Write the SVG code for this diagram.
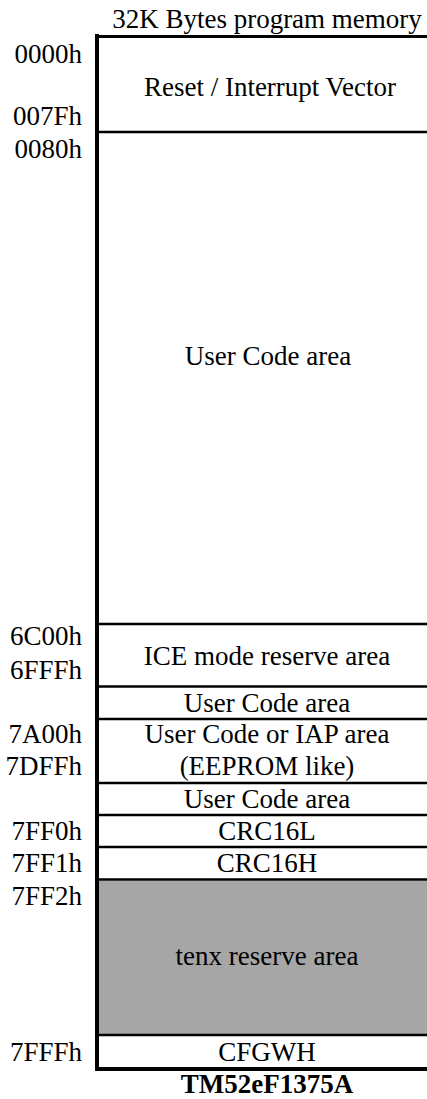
<svg xmlns="http://www.w3.org/2000/svg" width="427" height="1099" viewBox="0 0 427 1099">
<style>
text{font-family:"Liberation Serif","Times New Roman",serif;font-size:27px;fill:#000}
.c{text-anchor:middle}
.a{text-anchor:end}
.b{font-weight:bold}
.ln{stroke:#000;stroke-width:2.3;fill:none}
</style>
<rect width="427" height="1099" fill="#fff"/>
<text class="c" x="267" y="28" font-size="26.5">32K Bytes program memory</text>
<g id="addresses">
<text class="a" x="82" y="63">0000h</text>
<text class="a" x="82" y="125">007Fh</text>
<text class="a" x="82" y="158">0080h</text>
<text class="a" x="82" y="645">6C00h</text>
<text class="a" x="82" y="679">6FFFh</text>
<text class="a" x="82" y="743">7A00h</text>
<text class="a" x="82" y="775">7DFFh</text>
<text class="a" x="82" y="840">7FF0h</text>
<text class="a" x="82" y="872">7FF1h</text>
<text class="a" x="82" y="905">7FF2h</text>
<text class="a" x="82" y="1061">7FFFh</text>
</g>
<g id="reset"><text class="c" x="270" y="96">Reset / Interrupt Vector</text></g>
<g id="user1"><text class="c" x="268" y="365">User Code area</text></g>
<g id="ice"><text class="c" x="267" y="665">ICE mode reserve area</text></g>
<g id="user2"><text class="c" x="267" y="712">User Code area</text></g>
<g id="iap"><text class="c" x="267" y="743">User Code or IAP area</text><text class="c" x="267" y="775">(EEPROM like)</text></g>
<g id="user3"><text class="c" x="267" y="808">User Code area</text></g>
<g id="crc16l"><text class="c" x="267" y="840">CRC16L</text></g>
<g id="crc16h"><text class="c" x="267" y="872">CRC16H</text></g>
<g id="tenx"><rect x="99" y="880.5" width="328" height="154" fill="#a6a6a6"/><text class="c" x="267" y="965">tenx reserve area</text></g>
<g id="cfgwh"><text class="c" x="267" y="1061">CFGWH</text></g>
<g id="lines">
<line x1="95" y1="36.5" x2="427" y2="36.5" stroke="#000" stroke-width="3"/>
<line x1="97" y1="34" x2="97" y2="1071" stroke="#000" stroke-width="4"/>
<path class="ln" d="M97 132H427M97 624H427M97 686.5H427M97 719H427M97 783H427M97 815H427M97 847H427M97 879.5H427M97 1035H427"/>
<line x1="95" y1="1069" x2="427" y2="1069" stroke="#000" stroke-width="4"/>
</g>
<text class="c b" x="267" y="1093">TM52eF1375A</text>
</svg>
